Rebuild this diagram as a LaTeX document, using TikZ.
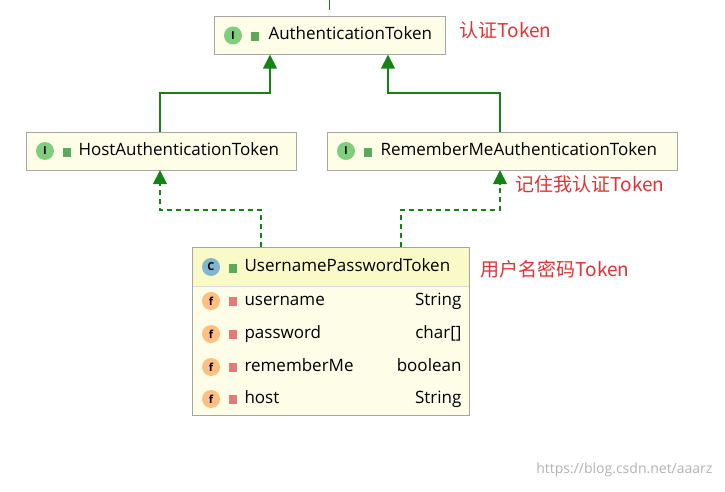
\documentclass[tikz,border=0pt]{standalone}
\usepackage{fontspec}
\setmainfont{Open Sans}
\newfontfamily\cjk{Noto Sans CJK SC}
\usetikzlibrary{arrows.meta}
\definecolor{boxfill}{RGB}{253,253,232}
\definecolor{headfill}{RGB}{250,250,200}
\definecolor{linegreen}{RGB}{20,130,20}
\definecolor{notered}{RGB}{225,50,50}
\definecolor{lockgreen}{RGB}{90,170,90}
\definecolor{lockred}{RGB}{230,120,120}
\tikzset{
  classbox/.style={draw=gray!70, fill=boxfill, minimum height=38pt, inner sep=0pt},
  icon/.style={circle, inner sep=0pt, minimum size=18pt, font=\fontsize{11}{12}\selectfont\bfseries},
  lockicon/.style={draw=#1, fill=#1, inner sep=0pt, minimum width=7pt, minimum height=8pt},
  label/.style={text height=12pt, text depth=4pt},
  note/.style={text=notered, anchor=west, font=\cjk\fontsize{19}{22}\selectfont},
  inherit/.style={linegreen, line width=1.6pt, -{Triangle[width=14pt,length=14pt]}},
  realize/.style={inherit, dash pattern=on 5pt off 4pt},
}
\begin{document}
\begin{tikzpicture}[x=1pt, y=-1pt, font=\fontsize{17}{20}\selectfont]
\useasboundingbox (0,0) rectangle (725,492);
% interfaces
\node[classbox, minimum width=231pt] (auth) at (329.5,35.5) {};
\node[icon, fill=green!45!gray!70] at (233,35.5) {I};
\node[lockicon=lockgreen] at (255,36.5) {};
\node[label, anchor=west] at (265,35.5) {AuthenticationToken};
\node[classbox, minimum width=270pt] (host) at (161,151) {};
\node[icon, fill=green!45!gray!70] at (45,151) {I};
\node[lockicon=lockgreen] at (67,152) {};
\node[label, anchor=west] at (75,151) {HostAuthenticationToken};
\node[classbox, minimum width=350pt] (remember) at (502,151) {};
\node[icon, fill=green!45!gray!70] at (346,151) {I};
\node[lockicon=lockgreen] at (368,152) {};
\node[label, anchor=west] at (377,151) {RememberMeAuthenticationToken};
% class
\node[classbox, minimum width=277pt, minimum height=168pt] (upt) at (330.5,331) {};
\fill[headfill] (192.5,247.5) rectangle (468.5,286);
\draw[gray!30] (192.5,286) -- (468.5,286);
\draw[gray!70] (upt.south west) rectangle (upt.north east);
\node[icon, fill=cyan!50!gray!80] at (211,267) {C};
\node[lockicon=lockgreen] at (233,268) {};
\node[label, anchor=west] at (241,267) {UsernamePasswordToken};
\foreach \y/\name/\type in {301/username/String, 334/password/{char[]}, 367/rememberMe/boolean, 399/host/String} {
  \node[icon, fill=orange!50] at (211,\y) {f};
  \node[lockicon=lockred] at (233,\y) {};
  \node[label, anchor=west] at (241,\y) {\name};
  \node[label, anchor=east] at (465,\y) {\type};
}
% connectors
\coordinate (top) at (329.5,0);
\coordinate (topend) at (329.5,10);
\draw[linegreen, line width=1.6pt] (topend) -- (top);
\draw[inherit] (160,132) |- (270,93) -- (auth.south -| 270,0);
\draw[inherit] (500,132) |- (388,93) -- (auth.south -| 388,0);
\draw[realize] (261,247) |- (160,210) -- (host.south -| 160,0);
\draw[realize] (401,247) |- (500,210) -- (remember.south -| 500,0);
% notes
\node[note] (n1) at (456,30) {认证Token};
\node[note] (n2) at (512,184) {记住我认证Token};
\node[note] (n3) at (477,269) {用户名密码Token};
\node[anchor=east, text=gray!60, font=\fontsize{14}{16}\selectfont] (wm) at (716,470) {https://blog.csdn.net/aaarz};
\end{tikzpicture}
\end{document}
